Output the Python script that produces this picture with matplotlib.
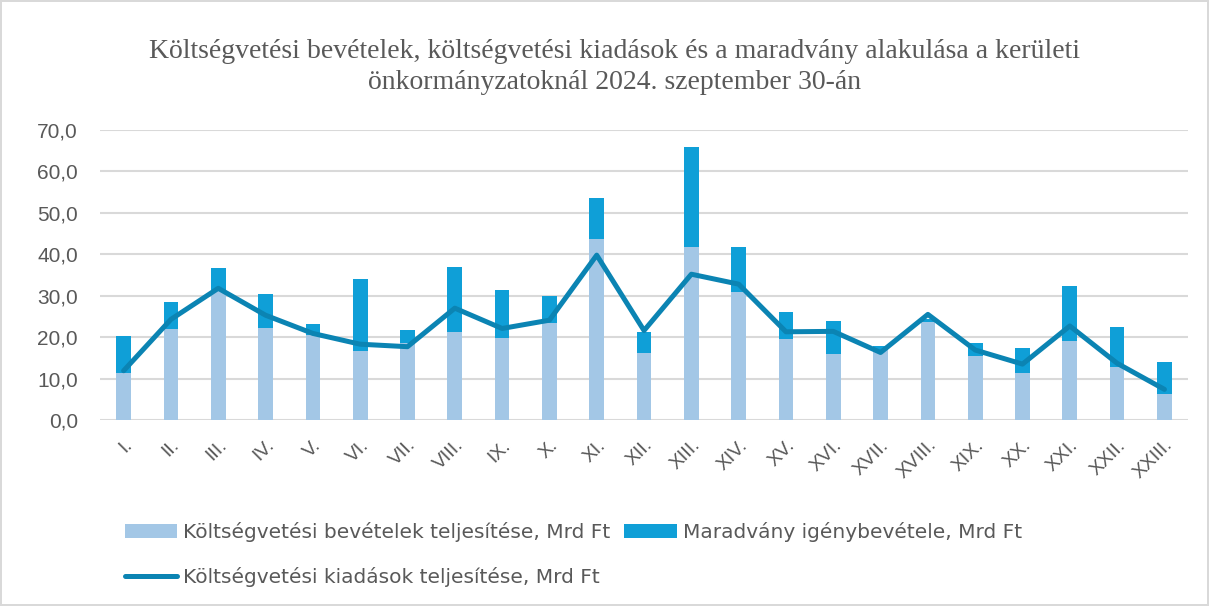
import matplotlib
matplotlib.use("Agg")
import matplotlib.pyplot as plt
from matplotlib import font_manager as fm
import numpy as np

categories = ["I.", "II.", "III.", "IV.", "V.", "VI.", "VII.", "VIII.", "IX.", "X.", "XI.", "XII.",
              "XIII.", "XIV.", "XV.", "XVI.", "XVII.", "XVIII.", "XIX.", "XX.", "XXI.", "XXII.", "XXIII."]
bevetelek = [11.4, 22.0, 31.4, 22.3, 20.5, 16.7, 18.5, 21.2, 19.9, 23.3, 43.7, 16.2,
             41.8, 31.0, 19.5, 16.0, 16.9, 23.7, 15.4, 11.4, 19.1, 12.7, 6.4]
osszes = [20.3, 28.4, 36.7, 30.4, 23.2, 34.0, 21.7, 37.0, 31.4, 30.0, 53.6, 21.3,
          66.0, 41.8, 26.1, 23.9, 17.9, 24.5, 18.5, 17.5, 32.3, 22.5, 13.9]
maradvany = [round(t - b, 1) for t, b in zip(osszes, bevetelek)]
kiadasok = [11.9, 24.3, 31.8, 25.3, 20.9, 18.3, 17.7, 27.0, 22.1, 24.1, 39.8, 21.6,
            35.2, 32.8, 21.3, 21.4, 16.3, 25.5, 16.9, 13.5, 22.7, 13.7, 7.4]
yticks = [0, 10, 20, 30, 40, 50, 60, 70]

names = {f.name for f in fm.fontManager.ttflist}
narrow = "Liberation Sans Narrow" if "Liberation Sans Narrow" in names else "DejaVu Sans"

C_LIGHT = "#A3C7E6"
C_DARK = "#0F9FD7"
C_LINE = "#0B84B3"
C_TXT = "#595959"

fig = plt.figure(figsize=(12.09, 6.06), dpi=100)
fig.patch.set_edgecolor("#D9D9D9")
fig.patch.set_linewidth(1.5)
ax = fig.add_axes([0.0827, 0.3069, 0.9000, 0.4785])

x = np.arange(len(categories))
w = 0.31
b1 = ax.bar(x, bevetelek, w, color=C_LIGHT, label="Költségvetési bevételek teljesítése, Mrd Ft", zorder=2)
b2 = ax.bar(x, maradvany, w, bottom=bevetelek, color=C_DARK, label="Maradvány igénybevétele, Mrd Ft", zorder=2)
l1, = ax.plot(x, kiadasok, color=C_LINE, lw=3.6, solid_joinstyle="round", solid_capstyle="round",
              label="Költségvetési kiadások teljesítése, Mrd Ft", zorder=3)

ax.set_xlim(-0.5, len(categories) - 0.5)
ax.set_ylim(0, 70)
ax.set_yticks(yticks)
ax.set_yticklabels([f"{v:.1f}".replace(".", ",") for v in yticks], fontsize=15, color=C_TXT,
                   family="Liberation Sans")
ax.yaxis.grid(True, color="#D9D9D9", lw=1.5, zorder=0)
ax.set_axisbelow(True)
for s in ax.spines.values():
    s.set_visible(False)
ax.tick_params(axis="both", length=0)
ax.tick_params(axis="y", pad=16)
ax.set_xticks(x)
ax.set_xticklabels(categories, rotation=45, ha="right", rotation_mode="anchor", fontsize=14,
                   color=C_TXT, family="Liberation Sans")
ax.tick_params(axis="x", pad=12)

fig.text(0.508, 0.890, "Költségvetési bevételek, költségvetési kiadások és a maradvány alakulása a kerületi\n"
         "önkormányzatoknál 2024. szeptember 30-án", ha="center", va="center", fontsize=20,
         family="Liberation Serif", color=C_TXT, linespacing=1.3)

leg = fig.legend([b1, l1, b2], [b1.get_label(), l1.get_label(), b2.get_label()], ncol=2,
                 loc="center left", bbox_to_anchor=(0.088, 0.085),
                 bbox_transform=fig.transFigure, frameon=False,
                 prop={"family": narrow, "size": 14.5}, labelcolor=C_TXT,
                 handlelength=2.6, handletextpad=0.3, columnspacing=0.7, labelspacing=1.25)

fig.savefig("out.png", dpi=100)
